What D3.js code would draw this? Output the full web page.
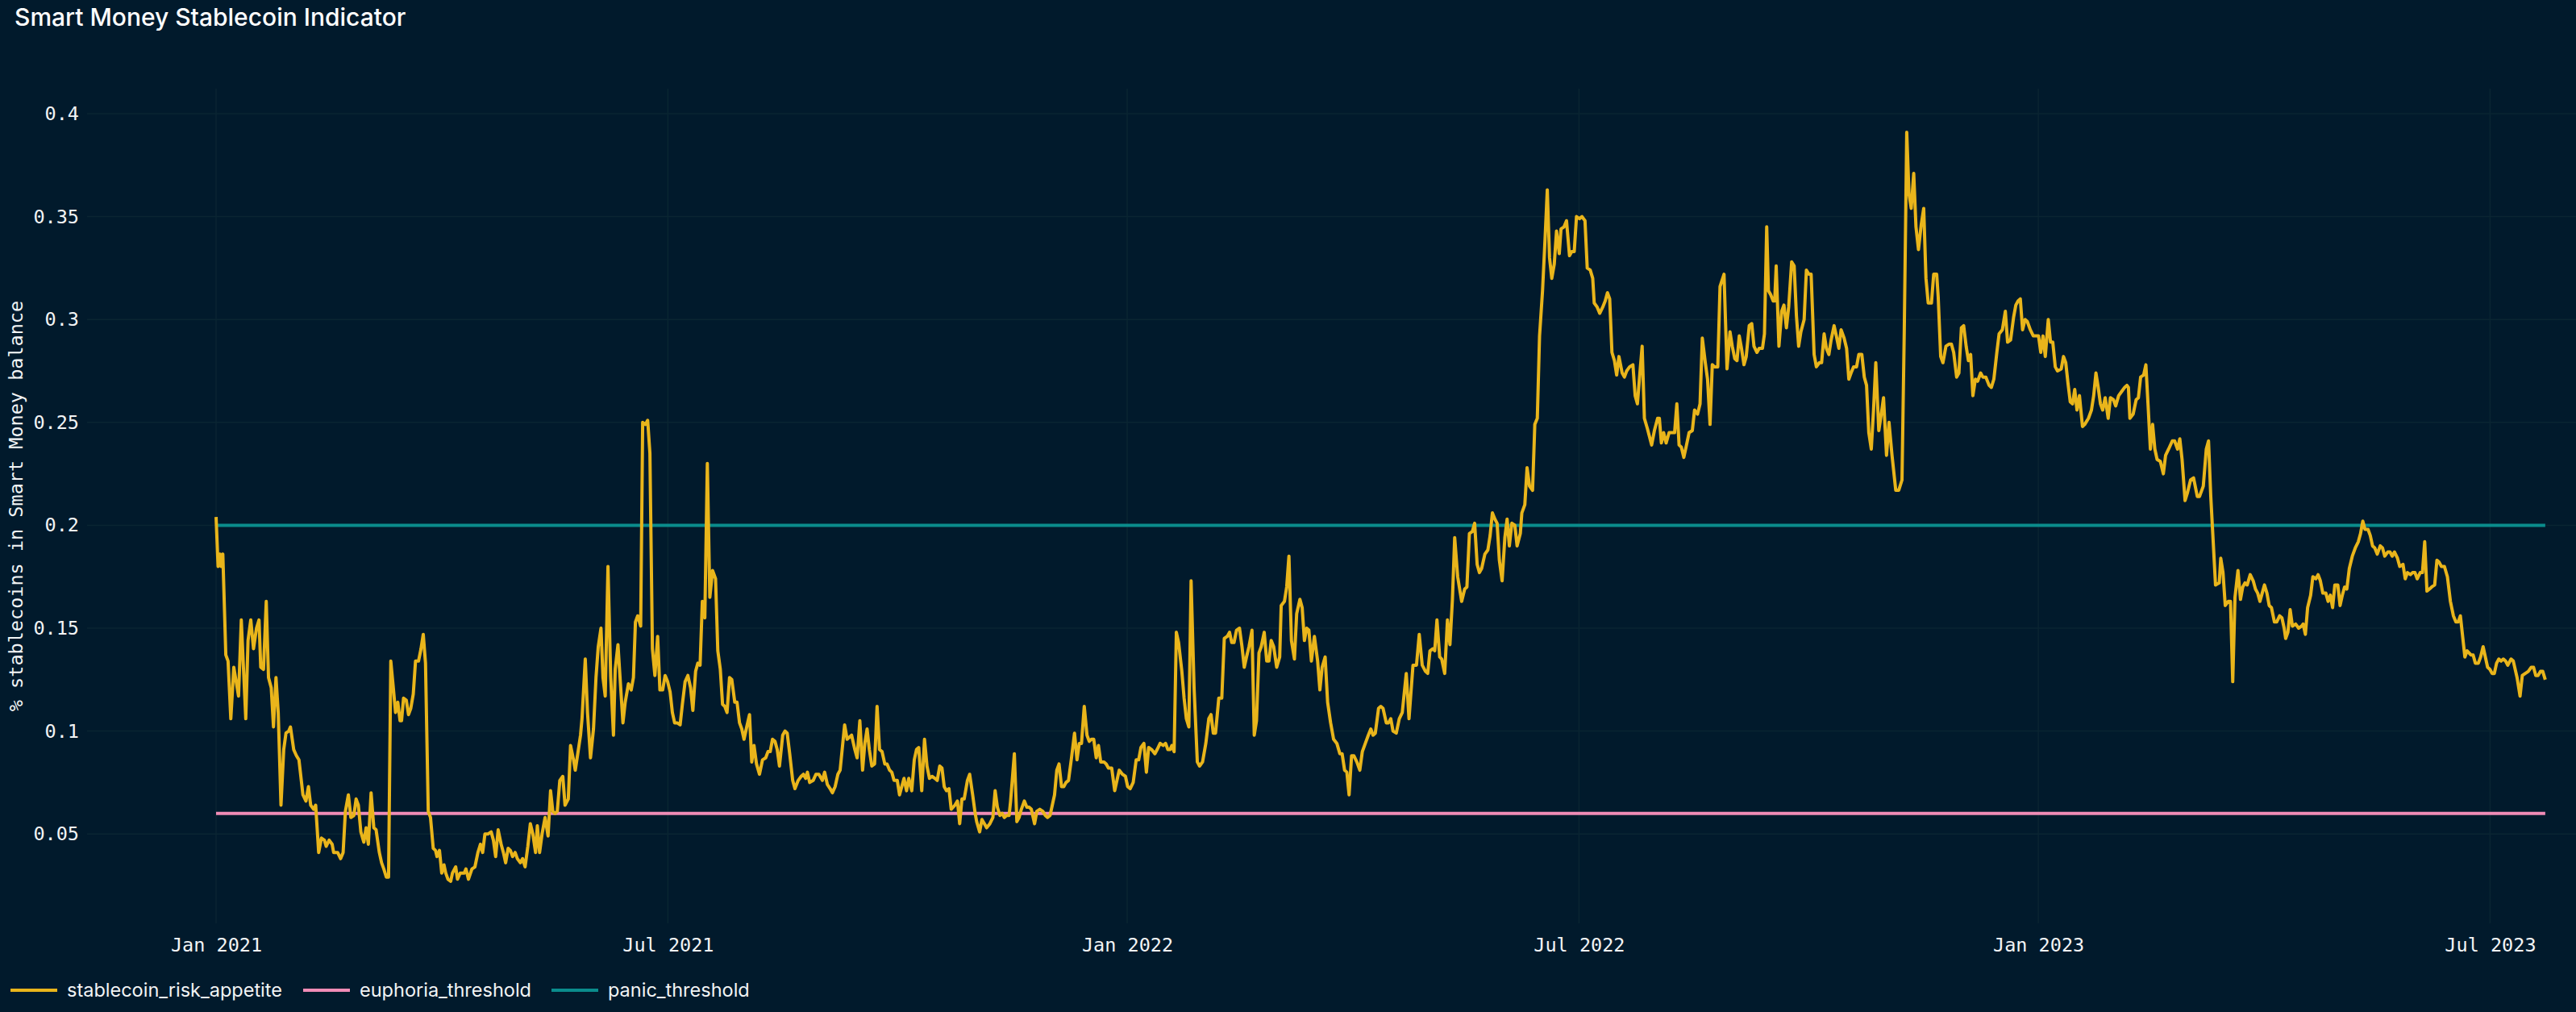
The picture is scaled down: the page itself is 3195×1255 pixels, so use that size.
<!DOCTYPE html>
<html><head><meta charset="utf-8">
<script src="https://cdn.jsdelivr.net/npm/d3@7"></script>
<style>html,body{margin:0;padding:0;background:#011a2c;}svg{display:block;}</style>
</head><body>
<svg id="c" width="3195" height="1255"></svg>
<script>
const titleText = "Smart Money Stablecoin Indicator";
const yAxisTitle = "% stablecoins in Smart Money balance";
const seriesNames = ["stablecoin_risk_appetite", "euphoria_threshold", "panic_threshold"];
const seriesColors = ["#e9b51b", "#f08cb6", "#0a8c8c"];
const startDate = "2021-01-01";
const yTicks = [0.05, 0.1, 0.15, 0.2, 0.25, 0.3, 0.35, 0.4];
const yTickLabels = ["0.05", "0.1", "0.15", "0.2", "0.25", "0.3", "0.35", "0.4"];
const xTickDates = ["2021-01-01", "2021-07-01", "2022-01-01", "2022-07-01", "2023-01-01", "2023-07-01"];
const xTickLabels = ["Jan 2021", "Jul 2021", "Jan 2022", "Jul 2022", "Jan 2023", "Jul 2023"];
const euphoriaThreshold = 0.06;
const panicThreshold = 0.2;
const lastDay = 933.1;
// [days since 2021-01-01, ratio]
const riskAppetite = [
[0,0.204],[0.8,0.180],[1.6,0.186],[2,0.180],[2.7,0.186],[3.9,0.137],[4.8,0.134],[5.9,0.106],[7.1,0.131],[9,0.117],[10.1,0.154],[11.9,0.106],[12.8,0.144],[13.9,0.154],[15,0.140],[16.2,0.150],[17.2,0.154],[17.9,0.131],[19,0.130],[20.1,0.163],[21,0.126],[22.1,0.121],[23,0.102],[24,0.126],[24.9,0.109],[26,0.064],[27.1,0.091],[28,0.099],[29.1,0.100],[29.8,0.102],[31.1,0.091],[32.2,0.088],[33.2,0.086],[34.8,0.069],[36,0.066],[37,0.073],[37.9,0.064],[39.1,0.062],[39.9,0.064],[41.1,0.041],[42.2,0.048],[43.4,0.047],[44.1,0.044],[45.3,0.047],[46.5,0.045],[47.1,0.041],[48.7,0.041],[49.9,0.038],[50.9,0.041],[51.8,0.061],[53,0.069],[54,0.058],[55.2,0.059],[56.1,0.067],[57,0.064],[58,0.051],[59.2,0.046],[60.1,0.053],[61,0.045],[62.1,0.070],[63.2,0.053],[64.1,0.052],[65.4,0.041],[66.3,0.036],[67.2,0.033],[68.2,0.029],[69.1,0.029],[70,0.134],[71,0.121],[71.9,0.109],[72.8,0.114],[73.7,0.105],[74.3,0.105],[75.1,0.116],[76.2,0.115],[77.1,0.108],[78,0.111],[79,0.118],[79.9,0.134],[81.1,0.134],[82.1,0.140],[83,0.147],[83.9,0.133],[85,0.061],[85.9,0.058],[87,0.043],[87.9,0.042],[88.5,0.039],[89.5,0.042],[90.4,0.031],[91.3,0.035],[92,0.031],[92.9,0.028],[94,0.027],[94.7,0.031],[96,0.034],[96.7,0.028],[97.8,0.031],[99.4,0.031],[100.1,0.033],[101.1,0.028],[102.5,0.033],[103.7,0.034],[104.9,0.041],[105.9,0.045],[106.8,0.041],[107.7,0.050],[109,0.050],[110.2,0.051],[111.1,0.047],[112,0.039],[113,0.052],[114.2,0.045],[115.1,0.041],[116,0.036],[117,0.043],[117.9,0.042],[118.8,0.039],[119.8,0.041],[120.7,0.038],[121.9,0.036],[122.8,0.038],[123.8,0.034],[124.9,0.044],[125.9,0.055],[126.9,0.050],[128,0.041],[128.7,0.054],[129.6,0.041],[130.6,0.050],[131.8,0.058],[133,0.049],[134,0.071],[134.9,0.061],[135.8,0.060],[136.7,0.061],[137.7,0.076],[138.9,0.078],[139.8,0.064],[141.1,0.067],[142,0.093],[143.2,0.086],[143.9,0.081],[144.9,0.089],[146,0.098],[146.6,0.106],[147.9,0.135],[148.8,0.109],[150,0.087],[151.2,0.101],[152.2,0.126],[153.1,0.141],[154.2,0.150],[155,0.126],[155.9,0.117],[157,0.180],[158.1,0.126],[159.2,0.098],[159.9,0.130],[161,0.142],[162.1,0.121],[163,0.104],[163.9,0.114],[165.2,0.123],[166.3,0.120],[167.2,0.126],[168,0.153],[168.9,0.156],[170.1,0.151],[170.9,0.250],[172,0.249],[172.9,0.251],[173.8,0.235],[174.8,0.140],[175.8,0.127],[176.9,0.146],[177.8,0.120],[178.9,0.120],[179.9,0.127],[180.9,0.124],[181.9,0.119],[182.8,0.109],[183.7,0.104],[184.7,0.104],[185.9,0.103],[186.8,0.113],[187.9,0.124],[189,0.127],[190.1,0.121],[191,0.110],[192.1,0.129],[193,0.133],[193.9,0.132],[194.8,0.163],[195.8,0.155],[196.8,0.230],[197.8,0.165],[198.9,0.178],[200.1,0.174],[201,0.139],[202,0.130],[202.9,0.113],[203.8,0.112],[204.7,0.109],[205.7,0.126],[206.6,0.125],[207.8,0.114],[208.7,0.114],[209.7,0.104],[210.6,0.101],[211.5,0.096],[212.4,0.101],[213.7,0.108],[214.6,0.085],[215.5,0.093],[216.5,0.084],[217.7,0.079],[218.9,0.086],[220.2,0.087],[221.1,0.090],[222,0.090],[222.9,0.096],[223.9,0.095],[224.8,0.091],[225.7,0.083],[227,0.098],[227.9,0.100],[228.8,0.099],[229.8,0.089],[231,0.076],[231.9,0.072],[233.2,0.076],[234.4,0.078],[235.3,0.079],[236.2,0.077],[236.9,0.080],[237.8,0.075],[239.2,0.076],
[240.3,0.079],[241.5,0.079],[242.9,0.076],[243.8,0.080],[244.9,0.074],[246,0.072],[246.9,0.070],[248,0.073],[249.1,0.079],[250,0.081],[251.8,0.103],[252.8,0.096],[253.7,0.097],[254.6,0.098],[255.9,0.091],[256.8,0.087],[257.9,0.105],[259,0.081],[259.9,0.094],[260.8,0.101],[261.7,0.091],[262.7,0.083],[263.8,0.084],[264.8,0.112],[265.8,0.091],[266.8,0.090],[267.9,0.084],[268.8,0.084],[269.8,0.081],[270.7,0.080],[271.6,0.076],[272.9,0.076],[273.8,0.069],[274.7,0.073],[275.6,0.077],[276.6,0.071],[277.5,0.077],[278.7,0.071],[279.7,0.086],[280.6,0.091],[281.5,0.092],[282.7,0.071],[283.8,0.096],[284.8,0.083],[285.8,0.077],[286.8,0.078],[288,0.077],[288.9,0.076],[289.9,0.083],[290.8,0.082],[291.7,0.073],[292.6,0.071],[293.6,0.072],[294.5,0.062],[296,0.064],[297,0.066],[297.9,0.055],[298.8,0.067],[299.7,0.067],[301,0.076],[301.9,0.079],[303.1,0.069],[304.1,0.060],[304.7,0.056],[305.9,0.051],[306.8,0.057],[307.8,0.055],[308.7,0.053],[310,0.055],[311.2,0.058],[312.1,0.071],[313,0.063],[314,0.059],[314.9,0.060],[315.8,0.058],[316.7,0.059],[317.7,0.059],[318.3,0.066],[319.8,0.089],[320.8,0.056],[321.7,0.058],[322.6,0.062],[323.8,0.066],[324.8,0.063],[325.7,0.063],[326.6,0.062],[327.9,0.055],[328.8,0.061],[330,0.062],[331.2,0.061],[332.2,0.059],[333.1,0.058],[334.1,0.059],[335,0.064],[335.9,0.069],[336.8,0.081],[337.7,0.084],[338.7,0.073],[339.6,0.073],[340.5,0.075],[341.5,0.076],[342.7,0.087],[343.9,0.099],[344.9,0.086],[345.8,0.094],[346.7,0.094],[347.8,0.112],[348.9,0.098],[349.8,0.095],[350.7,0.096],[351.6,0.096],[352.6,0.087],[353.5,0.093],[354.4,0.085],[355.7,0.085],[356.6,0.084],[357.5,0.082],[358.8,0.082],[360,0.071],[360.9,0.076],[361.8,0.081],[363.1,0.079],[364.3,0.078],[365.2,0.073],[366.2,0.072],[367.4,0.075],[368.6,0.086],[369.6,0.086],[370.5,0.092],[371.7,0.094],[372.7,0.080],[373.6,0.092],[374.8,0.091],[376.1,0.089],[377,0.091],[378.2,0.094],[379.4,0.093],[380.4,0.094],[381.3,0.091],[382.2,0.091],[382.9,0.093],[383.8,0.090],[384.7,0.148],[385.6,0.143],[386.9,0.129],[387.8,0.116],[388.7,0.106],[389.7,0.102],[390.6,0.173],[391.8,0.121],[393.1,0.085],[394,0.083],[395.2,0.085],[396.5,0.094],[397.7,0.106],[398.6,0.108],[399.5,0.099],[400.4,0.099],[401.7,0.116],[402.9,0.116],[403.9,0.145],[405.1,0.146],[406,0.148],[406.9,0.143],[407.8,0.143],[408.8,0.149],[410,0.150],[411,0.141],[411.9,0.131],[412.8,0.136],[413.8,0.141],[415,0.149],[415.9,0.098],[416.8,0.105],[417.8,0.138],[418.7,0.141],[419.9,0.148],[420.9,0.134],[421.8,0.134],[422.7,0.144],[423.7,0.141],[424.9,0.131],[426.1,0.136],[426.7,0.161],[428,0.163],[428.9,0.170],[429.8,0.185],[430.8,0.144],[432,0.135],[432.9,0.157],[434.2,0.164],[435.1,0.160],[436,0.144],[436.9,0.150],[437.8,0.149],[438.8,0.134],[440,0.146],[441.3,0.134],[442.2,0.120],[443.1,0.131],[444.3,0.136],[445.3,0.114],[446.5,0.104],[447.7,0.096],[449,0.094],[450.2,0.089],[451.1,0.089],[452.1,0.081],[453,0.080],[453.9,0.069],[454.9,0.088],[455.8,0.088],[457,0.085],[458.2,0.081],[459.2,0.090],[460.4,0.094],[461.6,0.098],[462.6,0.101],[463.5,0.098],[464.4,0.099],[465.7,0.111],[466.6,0.112],[467.5,0.111],[468.8,0.104],[469.7,0.104],[470.6,0.106],[471.5,0.100],[472.8,0.099],[474,0.106],[475.2,0.109],[476.8,0.128],[477.9,0.106],
[479.5,0.132],[480.9,0.132],[482,0.147],[483.2,0.132],[484.5,0.129],[485.4,0.128],[486.3,0.139],[487.5,0.140],[488.2,0.139],[489.1,0.154],[490.2,0.136],[491,0.135],[492.2,0.128],[493.3,0.154],[494.3,0.142],[495.3,0.164],[496.2,0.194],[497.4,0.175],[499,0.163],[500.2,0.169],[501.1,0.170],[502.1,0.196],[503.3,0.197],[504.2,0.201],[505.2,0.181],[506.1,0.177],[507,0.179],[508.3,0.186],[509.5,0.188],[510.4,0.195],[511.3,0.206],[512.3,0.203],[513.2,0.201],[514.1,0.183],[515.2,0.173],[516.3,0.194],[517.2,0.203],[518.1,0.190],[519.1,0.201],[520.3,0.200],[521.2,0.190],[522.5,0.196],[523.1,0.206],[524.3,0.210],[525.2,0.228],[526.2,0.219],[527.4,0.217],[528.3,0.249],[529.3,0.252],[530.2,0.292],[531.4,0.314],[532.4,0.339],[533.3,0.363],[534.2,0.330],[535.1,0.320],[536.1,0.327],[537,0.343],[538.1,0.332],[538.8,0.344],[540,0.345],[541,0.348],[542.2,0.331],[543.1,0.333],[544.1,0.333],[545,0.350],[546.2,0.349],[547.2,0.350],[548.4,0.348],[549.3,0.325],[550.5,0.324],[551.5,0.320],[552.1,0.308],[553.3,0.306],[554.3,0.303],[555.5,0.306],[556.5,0.309],[557.4,0.313],[558.3,0.310],[559.2,0.284],[560.2,0.280],[561.1,0.273],[562,0.282],[563.3,0.274],[564.2,0.272],[565.1,0.275],[566.3,0.277],[567.6,0.278],[568.5,0.263],[569.4,0.259],[570.4,0.274],[571.3,0.287],[572.2,0.252],[573.4,0.247],[575.1,0.239],[576.2,0.246],[577.5,0.252],[578.2,0.252],[579,0.240],[579.9,0.245],[580.9,0.240],[582.1,0.245],[583.3,0.245],[584.3,0.245],[585.2,0.259],[586.1,0.239],[587,0.238],[588,0.233],[588.9,0.238],[590.1,0.245],[591.4,0.246],[592.3,0.256],[593.5,0.254],[594.5,0.259],[595.4,0.291],[596.6,0.279],[597.5,0.271],[598.5,0.249],[599.4,0.278],[600.3,0.277],[601.6,0.277],[602.5,0.316],[604.1,0.322],[605.3,0.276],[606.5,0.294],[607.4,0.287],[608.4,0.281],[609.3,0.280],[610.2,0.292],[611.1,0.286],[612.1,0.278],[613,0.282],[614.2,0.297],[615.2,0.298],[616.1,0.287],[617.3,0.284],[618.2,0.286],[619.5,0.286],[620.3,0.293],[621.2,0.345],[621.9,0.314],[622.8,0.312],[623.8,0.309],[624.4,0.309],[625,0.326],[626.1,0.287],[627.2,0.304],[628.1,0.307],[629.1,0.296],[630,0.306],[631.2,0.328],[632.2,0.326],[633.1,0.302],[634,0.287],[634.9,0.294],[636.2,0.300],[637.1,0.324],[638.1,0.322],[639,0.322],[640.2,0.283],[641.1,0.277],[642.3,0.279],[643.2,0.279],[644.2,0.293],[645.1,0.286],[646.1,0.283],[647,0.290],[648.2,0.297],[649.1,0.292],[650.1,0.286],[651,0.295],[652.2,0.291],[653.2,0.286],[654.1,0.271],[655,0.274],[656,0.277],[657.2,0.277],[658.1,0.283],[659.3,0.283],[660.3,0.272],[661.2,0.268],[662.1,0.245],[663.1,0.237],[664,0.256],[664.9,0.279],[666.1,0.246],[667.1,0.254],[668,0.262],[669.2,0.234],[670.2,0.250],[671.4,0.234],[672.9,0.217],[674.1,0.217],[675.4,0.222],[676.3,0.294],[677.3,0.391],[678.2,0.361],[679.1,0.354],[680.1,0.371],[681,0.345],[682,0.334],[683.1,0.346],[684.1,0.354],[685,0.320],[685.9,0.308],[687.2,0.308],[688.1,0.322],[689.3,0.322],[689.9,0.311],[690.9,0.282],[691.8,0.279],[693,0.287],[694.2,0.288],[695.2,0.288],[696.1,0.284],[697.3,0.272],[698.2,0.274],[699.2,0.296],[700.1,0.297],[701.1,0.287],[702,0.280],[702.9,0.283],[703.8,0.263],[704.8,0.271],[705.7,0.270],[706.9,0.274],[707.8,0.272],[709,0.272],[710.3,0.268],[711.2,0.267],[712.2,0.271],[713.4,0.284],[714.3,0.293],
[715.6,0.295],[716.8,0.304],[717.7,0.289],[718.9,0.290],[720.1,0.301],[721,0.307],[721.9,0.309],[722.8,0.310],[723.7,0.295],[724.7,0.300],[725.6,0.299],[726.8,0.295],[728,0.292],[730.1,0.292],[731,0.284],[731.9,0.292],[732.8,0.282],[734,0.300],[734.9,0.289],[735.8,0.289],[736.8,0.277],[737.7,0.275],[739.2,0.276],[740.1,0.282],[741,0.279],[741.9,0.269],[742.8,0.260],[743.7,0.259],[744.6,0.266],[745.5,0.256],[746.5,0.263],[747.7,0.248],[748.6,0.249],[750.1,0.252],[751.3,0.256],[752.2,0.263],[753.1,0.274],[754,0.267],[754.9,0.259],[755.8,0.256],[756.8,0.262],[758,0.252],[758.9,0.262],[760.1,0.261],[761,0.258],[762.2,0.263],[763.4,0.265],[764.6,0.267],[765.5,0.268],[766.1,0.267],[766.7,0.252],[768,0.254],[769.2,0.261],[770.1,0.262],[771,0.272],[772.2,0.273],[773.1,0.278],[774,0.258],[774.9,0.237],[775.8,0.249],[776.7,0.237],[777.6,0.232],[778.9,0.231],[780.1,0.225],[781,0.234],[782.2,0.237],[783.7,0.241],[784.6,0.241],[785.8,0.237],[786.7,0.242],[787.6,0.232],[788.8,0.212],[789.8,0.216],[791,0.222],[792.2,0.223],[793.7,0.214],[794.6,0.214],[796.1,0.219],[797.3,0.237],[798.2,0.241],[799.1,0.214],[801,0.171],[802.5,0.172],[803.1,0.184],[804,0.177],[804.9,0.161],[806.1,0.163],[807,0.163],[807.9,0.124],[808.8,0.165],[810,0.178],[811,0.164],[811.9,0.170],[812.8,0.172],[813.7,0.171],[814.9,0.176],[816.1,0.173],[817,0.169],[817.9,0.167],[818.8,0.163],[819.7,0.167],[820.6,0.171],[821.6,0.167],[822.5,0.161],[823.4,0.160],[824.6,0.153],[825.5,0.153],[826.7,0.156],[827.6,0.155],[828.5,0.150],[829.1,0.145],[830,0.148],[830.9,0.159],[831.8,0.151],[833.1,0.152],[834.3,0.150],[835.5,0.151],[836.1,0.152],[837,0.147],[837.9,0.160],[839.1,0.166],[840,0.175],[841.2,0.174],[842.1,0.176],[843,0.173],[844,0.167],[845.2,0.167],[846.1,0.163],[847,0.166],[847.9,0.160],[848.8,0.171],[850,0.171],[850.9,0.161],[851.8,0.166],[852.7,0.170],[853.6,0.169],[854.6,0.179],[855.8,0.185],[857,0.189],[858.2,0.192],[859.1,0.196],[860,0.202],[860.9,0.198],[862.1,0.198],[863,0.195],[863.9,0.190],[864.8,0.189],[865.8,0.186],[867,0.190],[867.9,0.189],[868.8,0.185],[870,0.187],[870.9,0.187],[871.8,0.185],[872.7,0.187],[873.9,0.184],[874.8,0.180],[876.1,0.181],[877,0.174],[877.9,0.177],[879.1,0.176],[880,0.177],[880.9,0.177],[881.8,0.174],[883,0.177],[883.9,0.177],[884.8,0.192],[885.7,0.168],[886.7,0.169],[887.6,0.170],[888.8,0.171],[889.7,0.183],[890.6,0.182],[891.5,0.180],[892.7,0.180],[893.9,0.175],[895.1,0.163],[896.3,0.156],[897.3,0.153],[898.2,0.153],[899.1,0.156],[900,0.146],[900.9,0.136],[901.8,0.139],[903.3,0.137],[904.2,0.137],[905.1,0.133],[906.3,0.133],[907.2,0.136],[908.2,0.141],[909.1,0.136],[910,0.131],[910.9,0.130],[911.8,0.128],[912.7,0.128],[913.6,0.133],[914.5,0.135],[915.4,0.134],[916.3,0.135],[917.2,0.134],[918.1,0.132],[919.4,0.135],[920.3,0.134],[921.8,0.126],[923,0.117],[923.9,0.127],[925.1,0.128],[926.3,0.129],[927.5,0.131],[928.4,0.131],[929.3,0.127],[930.2,0.127],[931.2,0.129],[932.1,0.129],[933.1,0.125]
];

const svg = d3.select("#c");
const W = 3195, H = 1255;
svg.append("rect").attr("width", W).attr("height", H).attr("fill", "#011a2c");

const DAY = 86400000;
const t0 = new Date(startDate + "T00:00:00Z").getTime();
const toDate = d => new Date(t0 + d * DAY);

const plotL = 108, plotR = 3195, plotT = 110, plotB = 1145;
const pxPerDay = 3.096, zeroX = 268;
const x = d3.scaleUtc()
  .domain([toDate((plotL - zeroX) / pxPerDay), toDate((plotR - zeroX) / pxPerDay)])
  .range([plotL, plotR]);
const y = d3.scaleLinear()
  .domain([0.4 - (plotB - 141) / 2552, 0.4 + (141 - plotT) / 2552])
  .range([plotB, plotT]);

const gridColor = "#0a2532";
const xTicks = xTickDates.map(s => new Date(s + "T00:00:00Z"));

// grid
svg.append("g").selectAll("line").data(xTicks).join("line")
  .attr("x1", d => x(d)).attr("x2", d => x(d)).attr("y1", plotT).attr("y2", plotB)
  .attr("stroke", gridColor).attr("stroke-width", 1.5);
svg.append("g").selectAll("line").data(yTicks).join("line")
  .attr("x1", plotL).attr("x2", plotR).attr("y1", d => y(d)).attr("y2", d => y(d))
  .attr("stroke", gridColor).attr("stroke-width", 1.5);

// y axis
const yAxis = d3.axisLeft(y).tickValues(yTicks).tickSize(0).tickPadding(10)
  .tickFormat((d, i) => yTickLabels[i]);
const gy = svg.append("g").attr("transform", `translate(${plotL},0)`).call(yAxis);
gy.select(".domain").remove();
gy.selectAll("text").attr("fill", "#f2f4f5").style("font-family", "DejaVu Sans Mono, monospace").style("font-size", "23.5px");

// x axis
const xAxis = d3.axisBottom(x).tickValues(xTicks).tickSize(0).tickPadding(18)
  .tickFormat((d, i) => xTickLabels[i]);
const gx = svg.append("g").attr("transform", `translate(0,${plotB})`).call(xAxis);
gx.select(".domain").remove();
gx.selectAll("text").attr("fill", "#f2f4f5").style("font-family", "DejaVu Sans Mono, monospace").style("font-size", "23.5px");

// thresholds
const tStart = toDate(0), tEnd = toDate(lastDay);
const line = d3.line().x(d => x(d[0])).y(d => y(d[1]));
svg.append("path").datum([[tStart, euphoriaThreshold], [tEnd, euphoriaThreshold]])
  .attr("d", line).attr("fill", "none").attr("stroke", seriesColors[1]).attr("stroke-width", 4);
svg.append("path").datum([[tStart, panicThreshold], [tEnd, panicThreshold]])
  .attr("d", line).attr("fill", "none").attr("stroke", seriesColors[2]).attr("stroke-width", 4);

// main series
svg.append("path").datum(riskAppetite.map(p => [toDate(p[0]), p[1]]))
  .attr("d", line).attr("fill", "none").attr("stroke", seriesColors[0])
  .attr("stroke-width", 4).attr("stroke-linejoin", "round");

// title
svg.append("text").attr("x", 18).attr("y", 32).text(titleText)
  .attr("fill", "#ffffff").style("font-family", "Inter, sans-serif").style("font-size", "30px").style("font-weight", 500);

// y title
svg.append("text").attr("transform", `translate(28,${(plotT + plotB) / 2}) rotate(-90)`)
  .attr("text-anchor", "middle").text(yAxisTitle).attr("fill", "#f2f4f5")
  .style("font-family", "DejaVu Sans Mono, monospace").style("font-size", "23.5px");

// legend
const legendX = [13, 376, 684];
const lg = svg.append("g").selectAll("g").data(seriesNames).join("g")
  .attr("transform", (d, i) => `translate(${legendX[i]},1228)`);
lg.append("line").attr("x1", 0).attr("x2", 58).attr("stroke", (d, i) => seriesColors[i]).attr("stroke-width", 4);
lg.append("text").attr("x", 70).attr("dy", "0.35em").text(d => d).attr("fill", "#f2f4f5")
  .style("font-family", "Inter, sans-serif").style("font-size", "23.5px");
</script>
</body></html>
